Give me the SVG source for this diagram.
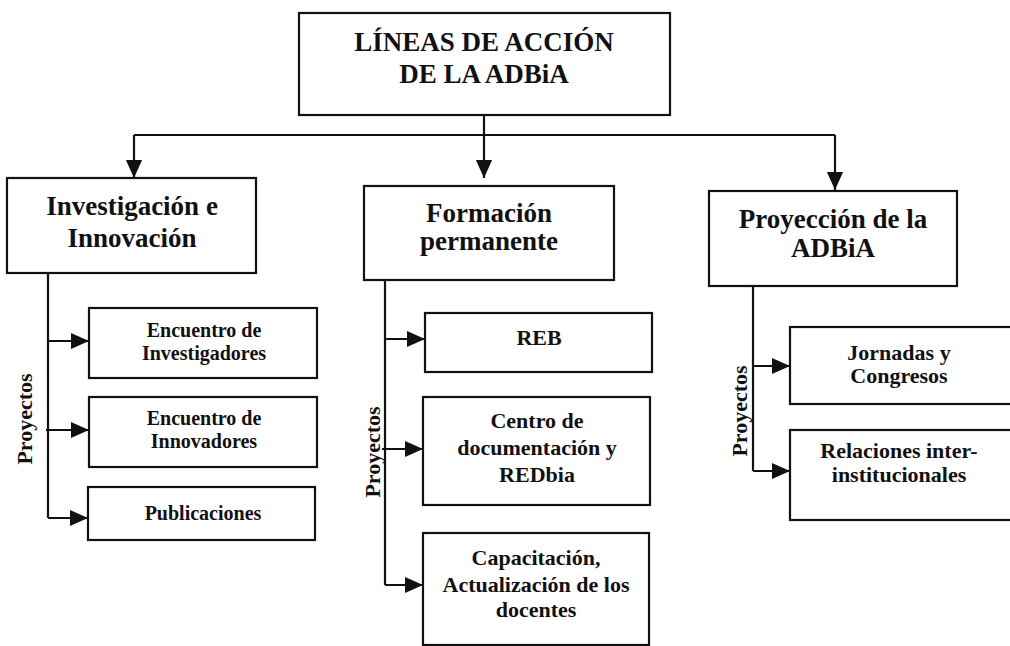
<svg xmlns="http://www.w3.org/2000/svg" width="1010" height="646" viewBox="0 0 1010 646">
<defs>
<marker id="arr" viewBox="0 0 10 10" refX="10" refY="5" markerWidth="18" markerHeight="18" markerUnits="userSpaceOnUse" orient="auto">
<path d="M0,0.5 L10,5 L0,9.5 Z" fill="#111"/>
</marker>
<style>
.box{fill:#fff;stroke:#111;stroke-width:2.2}
.ln{fill:none;stroke:#111;stroke-width:2.2}
text{font-family:"Liberation Serif","Times New Roman",serif;font-weight:bold;fill:#111;text-anchor:middle}
.t1{font-size:27px}
.t2{font-size:27px}
.t3{font-size:20px}
.t4{font-size:22px}
.pr{font-size:22px}
</style>
</defs>
<rect width="1010" height="646" fill="#fff"/>
<g id="connectors">
<path class="ln" d="M484,115 V135 M134,135 H835"/>
<path class="ln" d="M484,135 V178" marker-end="url(#arr)"/>
<path class="ln" d="M134,135 V178" marker-end="url(#arr)"/>
<path class="ln" d="M835,135 V190" marker-end="url(#arr)"/>
<path class="ln" d="M48,273 V518"/>
<path class="ln" d="M48,341 H89" marker-end="url(#arr)"/>
<path class="ln" d="M46,430 H89" marker-end="url(#arr)"/>
<path class="ln" d="M48,518 H88" marker-end="url(#arr)"/>
<path class="ln" d="M385,280 V585"/>
<path class="ln" d="M385,339 H425" marker-end="url(#arr)"/>
<path class="ln" d="M382,449 H423" marker-end="url(#arr)"/>
<path class="ln" d="M385,585 H423" marker-end="url(#arr)"/>
<path class="ln" d="M753,286 V471"/>
<path class="ln" d="M753,366 H790" marker-end="url(#arr)"/>
<path class="ln" d="M753,471 H790" marker-end="url(#arr)"/>
<text class="pr" transform="translate(32,419) rotate(-90)">Proyectos</text>
<text class="pr" transform="translate(380,452) rotate(-90)">Proyectos</text>
<text class="pr" transform="translate(747,411) rotate(-90)">Proyectos</text>
</g>
<g id="root">
<rect class="box" x="299" y="13" width="371" height="102"/>
<text class="t1" x="484" y="51">LÍNEAS DE ACCIÓN</text>
<text class="t1" x="484" y="83">DE LA ADBiA</text>
</g>
<g id="investigacion">
<rect class="box" x="7" y="178" width="249" height="95"/>
<text class="t2" x="132" y="215">Investigación e</text>
<text class="t2" x="132" y="247">Innovación</text>
</g>
<g id="formacion">
<rect class="box" x="364" y="186" width="250" height="94"/>
<text class="t2" x="489" y="222">Formación</text>
<text class="t2" x="489" y="250">permanente</text>
</g>
<g id="proyeccion">
<rect class="box" x="709" y="191" width="248" height="95"/>
<text class="t2" x="833" y="228">Proyección de la</text>
<text class="t2" x="833" y="257">ADBiA</text>
</g>
<g id="enc-investigadores">
<rect class="box" x="89" y="308" width="228" height="70"/>
<text class="t3" x="204" y="337">Encuentro de</text>
<text class="t3" x="204" y="360">Investigadores</text>
</g>
<g id="enc-innovadores">
<rect class="box" x="89" y="397" width="228" height="70"/>
<text class="t3" x="204" y="425">Encuentro de</text>
<text class="t3" x="204" y="448">Innovadores</text>
</g>
<g id="publicaciones">
<rect class="box" x="88" y="487" width="227" height="53"/>
<text class="t3" x="203" y="520">Publicaciones</text>
</g>
<g id="reb">
<rect class="box" x="425" y="313" width="227" height="59"/>
<text class="t4" x="539" y="345">REB</text>
</g>
<g id="centro">
<rect class="box" x="423" y="397" width="227" height="108"/>
<text class="t4" x="537" y="428">Centro de</text>
<text class="t4" x="537" y="455">documentación y</text>
<text class="t4" x="537" y="482">REDbia</text>
</g>
<g id="capacitacion">
<rect class="box" x="423" y="533" width="226" height="112"/>
<text class="t4" x="536" y="565">Capacitación,</text>
<text class="t4" x="536" y="592">Actualización de los</text>
<text class="t4" x="536" y="617">docentes</text>
</g>
<g id="jornadas">
<rect class="box" x="790" y="327" width="224" height="77"/>
<text class="t4" x="899" y="360">Jornadas y</text>
<text class="t4" x="899" y="383">Congresos</text>
</g>
<g id="relaciones">
<rect class="box" x="790" y="430" width="224" height="90"/>
<text class="t4" x="899" y="458">Relaciones inter-</text>
<text class="t4" x="899" y="482">institucionales</text>
</g>
</svg>
